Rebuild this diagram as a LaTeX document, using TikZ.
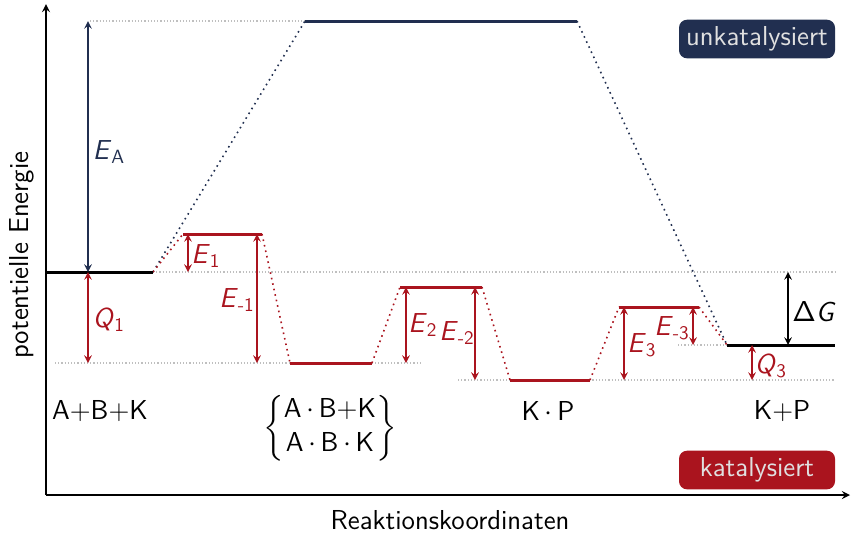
\documentclass[tikz,border=0pt]{standalone}
\usepackage{amsmath,amssymb}
\usepackage{tikz}
\usetikzlibrary{arrows, positioning, calc}
\renewcommand{\familydefault}{\sfdefault}
\definecolor{unkat}{RGB}{33,47,80}
\definecolor{kat}{RGB}{170,20,30}
\tikzstyle{level} = [line width=1.5pt]
\tikzstyle{guide} = [densely dotted, gray!50, line width=0.6pt]
\tikzstyle{path} = [dotted, line width=0.8pt]
\tikzstyle{energy} = [<->, >=stealth, line width=0.7pt]
\tikzstyle{label} = [font=\fontsize{13.7}{16}\selectfont, inner sep=1pt]
\tikzstyle{badge} = [rounded corners=4pt, font=\fontsize{13.7}{16}\selectfont, text=white!88!black, minimum height=17.5pt, minimum width=78pt, inner sep=3.5pt]

\begin{document}
\begin{tikzpicture}[x=0.5pt, y=-0.5pt]
    \useasboundingbox (0,0) rectangle (851,532);
    % Axes
    \coordinate (o) at (46,495);
    \coordinate (xend) at (850,495);
    \coordinate (yend) at (46,4);
    \draw [->, >=stealth, line width=0.8pt] (o) -- (xend);
    \draw [->, >=stealth, line width=0.8pt] (o) -- (yend);
    \node (xlab) [label] at (450,520) {Reaktionskoordinaten};
    \node (ylab) [label, rotate=90] at (22,255) {potentielle Energie};

    % Levels
    \coordinate (s1) at (46,272);   \coordinate (s2) at (153,272);
    \coordinate (u1) at (305,21);   \coordinate (u2) at (577,21);
    \coordinate (a1) at (183,234);  \coordinate (a2) at (262,234);
    \coordinate (b1) at (290,363);  \coordinate (b2) at (372,363);
    \coordinate (c1) at (400,287);  \coordinate (c2) at (482,287);
    \coordinate (d1) at (510,380);  \coordinate (d2) at (590,380);
    \coordinate (e1) at (619,307);  \coordinate (e2) at (699,307);
    \coordinate (f1) at (727,345);  \coordinate (f2) at (835,345);

    % Guides
    \draw [guide] (90,21) -- (u1);
    \draw [guide] (s2) -- (835,272);
    \draw [guide] (55,363) -- (420,363);
    \draw [guide] (458,380) -- (835,380);
    \draw [guide] (678,345) -- (f1);

    % Paths
    \draw [path, unkat] (s2) -- (u1);
    \draw [path, unkat] (u2) -- (f1);
    \draw [path, kat] (s2) -- (a1);
    \draw [path, kat] (a2) -- (b1);
    \draw [path, kat] (b2) -- (c1);
    \draw [path, kat] (c2) -- (d1);
    \draw [path, kat] (d2) -- (e1);
    \draw [path, kat] (e2) -- (f1);

    \draw [level] (s1) -- (s2);
    \draw [level, unkat] (u1) -- (u2);
    \draw [level, kat] (a1) -- (a2);
    \draw [level, kat] (b1) -- (b2);
    \draw [level, kat] (c1) -- (c2);
    \draw [level, kat] (d1) -- (d2);
    \draw [level, kat] (e1) -- (e2);
    \draw [level] (f1) -- (f2);

    % Arrows
    \draw [energy, unkat] (88,21) -- (88,272);
    \draw [energy, kat] (88,272) -- (88,363);
    \draw [energy, kat] (188,234) -- (188,272);
    \draw [energy, kat] (257,234) -- (257,363);
    \draw [energy, kat] (406,287) -- (406,363);
    \draw [energy, kat] (475,287) -- (475,380);
    \draw [energy, kat] (624,307) -- (624,380);
    \draw [energy, kat] (693,307) -- (693,345);
    \draw [energy] (788,272) -- (788,345);
    \draw [energy, kat] (752,345) -- (752,380);

    % Labels
    \node (ea) [label, unkat] at (109,152) {\textit{E}\textsubscript{A}};
    \node (q1) [label, kat] at (109,320) {\textit{Q}\textsubscript{1}};
    \node (e1l) [label, kat] at (206,256) {\textit{E}\textsubscript{1}};
    \node (em1l) [label, kat] at (237,300) {\textit{E}\textsubscript{-1}};
    \node (e2l) [label, kat] at (423,325) {\textit{E}\textsubscript{2}};
    \node (em2l) [label, kat] at (457,333) {\textit{E}\textsubscript{-2}};
    \node (e3l) [label, kat] at (642,345) {\textit{E}\textsubscript{3}};
    \node (em3l) [label, kat] at (672,328) {\textit{E}\textsubscript{-3}};
    \node (dg) [label] at (814,312) {$\mathsf{\Delta}$\textit{G}};
    \node (q3) [label, kat] at (771,366) {\textit{Q}\textsubscript{3}};

    % Species
    \node (sp1) [label] at (100,411) {A+B+K};
    \node (sp2) [label] at (330,428) {$\left\{\text{\begin{tabular}{@{}c@{}}A\,$\cdot$\,B+K\\[1pt] A\,$\cdot$\,B\,$\cdot$\,K\end{tabular}}\right\}$};
    \node (sp3) [label] at (548,411) {K\,$\cdot$\,P};
    \node (sp4) [label] at (782,411) {K+P};

    % Legend
    \node (unk) [badge, fill=unkat] at (757,39) {unkatalysiert};
    \node (kt) [badge, fill=kat] at (757,470) {katalysiert};
\end{tikzpicture}
\end{document}
